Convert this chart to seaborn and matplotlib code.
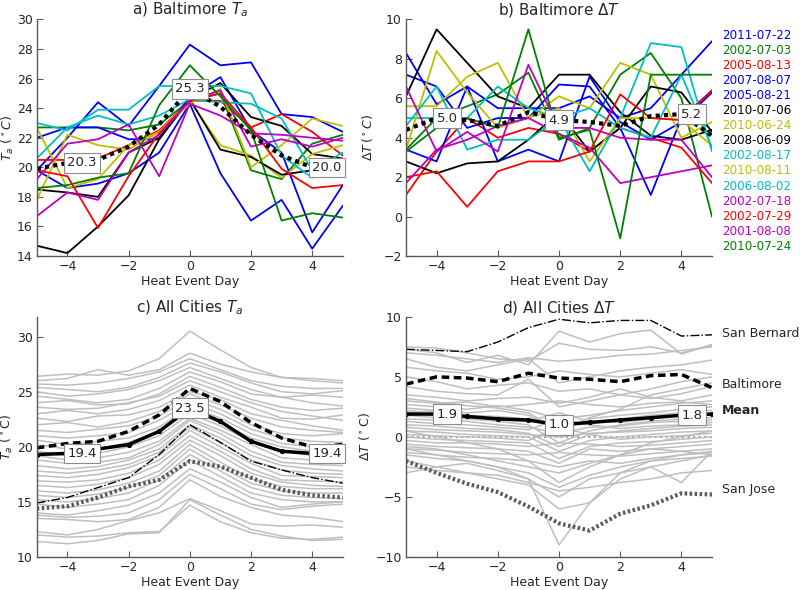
import matplotlib
matplotlib.use("Agg")
import matplotlib.pyplot as plt
import pandas as pd
import seaborn as sns

days = list(range(-5, 6))

events = ["2011-07-22", "2002-07-03", "2005-08-13", "2007-08-07", "2005-08-21",
          "2010-07-06", "2010-06-24", "2008-06-09", "2002-08-17", "2010-08-11",
          "2006-08-02", "2002-07-18", "2002-07-29", "2001-08-08", "2010-07-24"]
event_colors = ["#0000ff", "#008000", "#ff0000", "#0000ff", "#0000ff",
                "#000000", "#bfbf00", "#000000", "#00bfbf", "#bfbf00",
                "#00bfbf", "#bf00bf", "#ff0000", "#bf00bf", "#008000"]

# Baltimore air temperature per event, days -5..5
balt_ta = [
    [19.8, 22.0, 24.4, 22.8, 25.5, 28.3, 26.9, 27.1, 23.6, 23.4, 22.4],
    [22.7, 22.7, 22.7, 22.5, 22.9, 24.5, 25.0, 19.8, 19.2, 21.6, 22.2],
    [20.5, 20.5, 20.6, 21.5, 22.5, 24.5, 24.5, 22.7, 23.6, 22.4, 20.8],
    [22.0, 22.7, 22.7, 21.9, 21.9, 24.8, 26.1, 22.5, 21.0, 15.6, 18.8],
    [19.8, 18.6, 18.9, 19.6, 21.0, 24.3, 19.6, 16.4, 17.8, 14.5, 17.4],
    [14.7, 14.2, 16.0, 18.1, 21.9, 24.6, 25.7, 23.4, 22.8, 20.9, 20.6],
    [22.7, 18.6, 19.2, 21.5, 22.4, 24.5, 21.5, 20.8, 19.3, 20.9, 21.5],
    [18.5, 18.3, 18.0, 21.0, 22.0, 24.6, 21.2, 20.7, 19.5, 19.8, 20.0],
    [23.0, 22.5, 23.9, 23.9, 25.5, 25.5, 25.5, 25.0, 20.8, 19.3, 20.2],
    [17.8, 22.2, 21.5, 21.2, 22.4, 24.3, 25.3, 20.0, 21.5, 23.3, 22.8],
    [20.6, 22.7, 23.5, 22.9, 23.5, 24.6, 24.4, 24.3, 23.3, 19.8, 21.0],
    [19.2, 21.6, 21.9, 22.9, 19.4, 24.3, 23.5, 22.3, 22.2, 22.0, 21.8],
    [19.8, 19.4, 15.9, 19.4, 22.3, 24.5, 25.0, 22.7, 19.9, 18.6, 18.8],
    [16.7, 18.3, 17.8, 21.0, 22.2, 24.5, 25.2, 21.4, 21.9, 21.4, 22.0],
    [18.6, 18.8, 19.3, 19.6, 24.2, 26.9, 24.8, 22.5, 16.4, 16.9, 16.6],
]

# Baltimore urban-rural difference per event
balt_dt = [
    [8.3, 5.7, 6.6, 5.5, 5.5, 5.5, 6.1, 5.0, 5.5, 7.2, 8.9],
    [3.4, 5.0, 5.6, 6.2, 7.3, 3.9, 4.5, 7.2, 8.3, 6.0, 0.0],
    [1.1, 3.3, 5.0, 4.0, 4.5, 4.2, 3.3, 4.5, 4.0, 3.5, 1.7],
    [7.2, 6.6, 4.5, 5.0, 5.0, 6.7, 6.6, 4.5, 1.1, 5.0, 6.4],
    [3.4, 2.8, 6.6, 2.8, 3.4, 2.8, 7.1, 4.8, 3.9, 4.8, 6.3],
    [6.1, 9.5, 7.8, 6.1, 5.5, 7.2, 7.2, 5.3, 4.1, 3.9, 4.4],
    [5.6, 5.6, 7.1, 7.8, 5.0, 6.1, 5.5, 7.8, 7.2, 4.0, 4.8],
    [2.8, 2.2, 2.7, 2.8, 3.9, 5.3, 3.3, 4.5, 6.6, 6.3, 4.3],
    [5.0, 5.0, 5.0, 6.6, 5.5, 5.0, 2.3, 5.0, 8.8, 8.6, 3.3],
    [3.4, 8.4, 6.3, 4.5, 5.0, 5.5, 2.8, 5.0, 5.0, 4.9, 3.6],
    [4.6, 6.6, 3.4, 3.9, 3.9, 5.0, 5.5, 4.5, 4.0, 7.2, 3.5],
    [6.6, 3.3, 4.3, 3.3, 7.7, 4.5, 4.5, 4.0, 3.9, 3.9, 2.0],
    [2.0, 2.3, 0.5, 2.3, 2.8, 2.8, 3.3, 6.2, 5.0, 4.9, 6.4],
    [1.7, 3.4, 3.9, 4.6, 5.0, 4.2, 3.5, 1.7, 2.0, 2.3, 2.6],
    [3.3, 4.5, 5.0, 4.5, 9.5, 4.0, 4.4, -1.1, 7.2, 7.2, 7.2],
]

balt_mean_ta = [19.9, 20.3, 20.5, 21.4, 22.9, 25.3, 24.1, 22.2, 20.8, 20.0, 20.2]
balt_mean_dt = [4.4, 5.0, 4.9, 4.6, 5.3, 4.9, 4.8, 4.6, 5.1, 5.2, 4.1]
mean_ta = [19.3, 19.4, 19.8, 20.2, 21.4, 23.5, 22.3, 20.5, 19.6, 19.4, 19.4]
mean_dt = [1.9, 1.9, 1.7, 1.5, 1.4, 1.0, 1.2, 1.4, 1.6, 1.8, 1.9]
sb_ta = [14.9, 15.4, 16.3, 17.2, 19.3, 22.0, 20.4, 18.7, 17.9, 17.2, 16.7]
sb_dt = [7.3, 7.2, 7.1, 7.9, 9.1, 9.8, 9.5, 9.7, 9.7, 8.4, 8.5]
sj_ta = [14.4, 14.6, 15.4, 16.4, 17.0, 18.7, 18.2, 17.2, 16.1, 15.6, 15.4]
sj_dt = [-2.0, -3.0, -3.9, -4.6, -5.8, -7.2, -7.8, -6.4, -5.7, -4.7, -4.8]

# all cities, air temperature
cities_ta = [
    [26.4, 26.6, 26.5, 26.9, 28.0, 30.5, 28.8, 27.2, 26.3, 26.2, 26.0],
    [26.0, 26.2, 27.0, 26.5, 27.0, 28.5, 27.5, 26.8, 26.3, 26.0, 25.8],
    [25.7, 25.6, 25.8, 26.2, 26.8, 28.0, 27.0, 26.0, 25.5, 25.3, 25.3],
    [25.4, 25.2, 25.0, 25.4, 26.3, 27.6, 26.8, 25.8, 25.0, 24.8, 25.1],
    [25.0, 24.6, 24.8, 25.2, 26.0, 27.2, 26.2, 25.2, 24.5, 24.7, 24.5],
    [24.6, 24.3, 24.0, 24.3, 25.3, 26.8, 25.9, 24.8, 24.5, 24.0, 23.7],
    [24.0, 24.2, 23.8, 23.9, 24.8, 26.4, 25.4, 24.3, 23.6, 23.3, 23.5],
    [23.6, 23.4, 23.5, 24.0, 24.6, 26.0, 25.0, 24.0, 23.2, 22.8, 22.4],
    [23.0, 23.3, 23.0, 23.4, 24.2, 25.6, 24.5, 23.6, 22.6, 22.5, 22.9],
    [22.6, 22.3, 22.8, 22.9, 23.6, 25.0, 24.3, 23.0, 22.4, 21.9, 21.5],
    [22.0, 22.2, 21.8, 22.3, 23.2, 24.8, 23.8, 22.6, 21.8, 21.5, 21.3],
    [21.5, 21.3, 21.6, 21.9, 22.8, 24.4, 23.4, 22.0, 21.2, 21.0, 21.2],
    [21.0, 20.8, 21.0, 21.3, 22.4, 24.0, 23.0, 21.6, 20.8, 20.5, 20.4],
    [20.6, 20.2, 20.5, 20.8, 21.8, 23.6, 22.6, 21.2, 20.3, 20.0, 19.8],
    [20.2, 19.8, 19.8, 20.4, 21.4, 23.3, 22.2, 20.8, 20.0, 19.6, 19.5],
    [19.6, 19.2, 19.4, 20.0, 21.0, 23.0, 21.9, 20.5, 19.6, 19.2, 19.0],
    [19.2, 18.8, 19.0, 19.5, 20.5, 22.6, 21.5, 20.2, 19.0, 18.8, 18.6],
    [18.8, 18.5, 18.6, 19.0, 20.2, 22.4, 21.2, 19.6, 18.6, 18.4, 18.3],
    [18.3, 18.0, 18.2, 18.8, 19.8, 22.0, 20.8, 19.2, 18.3, 18.0, 17.8],
    [17.8, 17.6, 17.9, 18.4, 19.5, 21.8, 20.4, 18.8, 17.9, 17.6, 17.5],
    [17.4, 17.2, 17.5, 18.1, 19.2, 21.5, 20.0, 18.5, 17.4, 17.3, 17.2],
    [16.9, 16.8, 17.0, 17.6, 18.8, 21.0, 19.6, 18.0, 17.0, 16.9, 16.8],
    [16.5, 16.3, 16.6, 17.2, 18.4, 20.6, 19.2, 17.6, 16.8, 16.5, 16.4],
    [16.0, 15.8, 16.1, 16.7, 17.8, 20.2, 18.6, 17.1, 16.4, 16.2, 16.2],
    [15.6, 15.4, 15.7, 16.3, 17.4, 19.8, 18.2, 16.7, 16.0, 15.8, 15.8],
    [15.2, 15.0, 15.3, 15.8, 17.0, 19.3, 17.8, 16.3, 15.6, 15.4, 15.3],
    [14.8, 14.5, 14.8, 15.2, 16.5, 18.8, 17.3, 15.8, 15.2, 15.0, 15.0],
    [14.0, 13.8, 14.2, 14.7, 15.8, 18.0, 16.8, 15.4, 14.5, 14.8, 15.0],
    [13.8, 13.6, 13.7, 14.0, 15.2, 17.5, 16.2, 14.8, 14.3, 14.6, 14.8],
    [13.5, 13.4, 13.2, 13.4, 14.5, 17.0, 15.5, 14.5, 13.8, 13.6, 13.2],
    [12.3, 12.0, 12.5, 13.3, 14.0, 15.3, 14.2, 13.0, 12.8, 12.9, 12.7],
    [11.4, 11.2, 11.5, 12.1, 12.2, 15.2, 13.8, 12.5, 11.9, 11.5, 11.6],
    [12.0, 11.8, 11.9, 12.2, 12.3, 14.7, 13.2, 12.2, 11.7, 11.6, 11.8],
]

# all cities, urban-rural difference
cities_dt = [
    [7.5, 7.4, 7.0, 6.5, 6.3, 7.8, 7.3, 7.2, 7.5, 7.0, 7.6],
    [7.3, 7.0, 6.2, 6.8, 6.0, 8.8, 7.9, 8.6, 8.9, 6.9, 7.7],
    [7.0, 6.8, 6.5, 6.2, 6.6, 6.3, 6.5, 6.8, 6.9, 7.2, 7.5],
    [6.5, 5.8, 5.5, 6.0, 6.5, 4.5, 5.0, 5.5, 5.8, 6.0, 6.4],
    [5.8, 5.5, 5.3, 4.8, 5.0, 5.5, 5.2, 5.0, 5.3, 5.6, 5.2],
    [5.0, 4.6, 4.0, 4.3, 4.5, 3.8, 4.0, 3.5, 4.0, 4.6, 5.0],
    [4.2, 3.8, 3.6, 3.5, 4.8, 2.5, 3.0, 3.5, 3.2, 3.6, 4.2],
    [3.5, 3.3, 3.0, 3.2, 3.3, 2.8, 3.3, 4.0, 3.3, 3.0, 3.5],
    [3.0, 2.8, 2.9, 2.5, 2.7, 3.0, 2.7, 2.5, 2.8, 2.9, 2.7],
    [2.7, 2.5, 2.3, 2.6, 2.2, 1.5, 1.8, 2.2, 2.5, 2.8, 3.0],
    [2.4, 2.2, 2.0, 2.2, 1.8, 0.5, 1.5, 1.8, 2.0, 2.3, 2.5],
    [2.2, 2.0, 1.8, 1.7, 1.5, 1.0, 1.2, 1.5, 1.8, 2.0, 2.2],
    [2.0, 2.2, 1.6, 1.4, 1.3, 2.0, 1.3, 1.2, 1.5, 1.8, 1.9],
    [1.8, 1.6, 1.5, 1.3, 1.0, -0.5, 0.5, 1.0, 1.3, 1.5, 1.6],
    [1.5, 1.4, 1.3, 1.0, 0.8, 0.3, 0.8, 0.9, 1.2, 1.3, 1.4],
    [1.3, 1.1, 1.0, 0.8, 0.6, 1.5, 1.0, 0.7, 0.9, 1.0, 1.2],
    [1.0, 0.9, 0.7, 0.6, 0.3, -0.8, 0.2, 0.5, 0.7, 0.9, 1.0],
    [0.8, 0.6, 0.5, 0.4, 0.2, 0.0, 0.3, 0.4, 0.5, 0.7, 0.8],
    [0.5, 0.4, 0.2, 0.1, 0.0, -1.2, -0.3, 0.0, 0.2, 0.4, 0.5],
    [0.2, 0.1, 0.0, -0.1, -0.3, 0.8, 0.2, -0.2, 0.0, 0.1, 0.3],
    [0.0, -0.2, -0.3, -0.4, -0.5, -1.8, -0.8, -0.5, -0.4, -0.2, 0.0],
    [-0.3, -0.5, -0.5, -0.6, -0.8, -0.5, -0.6, -0.8, -0.7, -0.5, -0.3],
    [-0.6, -0.8, -0.9, -1.0, -1.2, -2.2, -1.0, -1.2, -1.0, -0.8, -0.6],
    [-1.0, -1.1, -1.3, -1.4, -1.5, -1.3, -1.5, -1.6, -1.4, -1.2, -1.0],
    [-1.3, -1.5, -1.7, -1.8, -2.0, -2.5, -2.0, -2.2, -1.8, -1.5, -1.3],
    [-0.8, -1.0, -1.5, -2.0, -2.5, -3.0, -2.2, -1.5, -1.0, -1.2, -1.5],
    [-1.5, -1.8, -2.0, -2.5, -3.0, -4.2, -3.2, -2.5, -2.0, -1.8, -1.6],
    [-3.0, -2.5, -2.2, -2.8, -3.5, -5.0, -3.5, -3.0, -2.5, -3.8, -1.2],
    [-2.0, -2.5, -3.0, -3.5, -4.0, -6.0, -5.5, -3.0, -2.0, -1.5, -1.2],
    [-1.0, -1.5, -2.0, -2.5, -3.5, -9.0, -5.5, -3.5, -2.5, -2.0, -1.5],
    [-2.5, -2.8, -3.0, -3.2, -3.8, -4.5, -4.2, -3.8, -3.5, -3.0, -2.8],
    [0.5, 0.0, -0.5, -1.0, -2.0, -3.8, -2.5, -1.5, -0.5, 0.0, 0.5],
    [3.2, 2.9, 2.6, 2.4, 2.0, 0.5, 1.6, 2.3, 3.5, 4.0, 4.5],
]


def long_frame(rows, names, col):
    recs = [(n, d, v) for n, vals in zip(names, rows) for d, v in zip(days, vals)]
    return pd.DataFrame(recs, columns=["id", "day", col])


sns.set_style("ticks")
plt.rcParams["font.family"] = ["DejaVu Sans"]
plt.rcParams["font.size"] = 9
plt.rcParams["mathtext.fontset"] = "dejavusans"

fig = plt.figure(figsize=(8, 5.9), dpi=100)
ax_a = fig.add_axes([0.046, 0.566, 0.3825, 0.401])
ax_b = fig.add_axes([0.5075, 0.566, 0.3825, 0.401])
ax_c = fig.add_axes([0.046, 0.056, 0.3825, 0.407])
ax_d = fig.add_axes([0.5075, 0.056, 0.3825, 0.407])

pal = dict(zip(events, event_colors))
dot_style = (0, (1, 1))
dash_style = (0, (2.2, 1.3))
box = dict(boxstyle="square,pad=0.25", fc="white", ec="0.55", lw=0.8)


def add_labels(ax, vals):
    ax.text(-4, vals[1], f"{vals[1]:.1f}", ha="left", va="center", fontsize=9.5, bbox=box, zorder=10)
    ax.text(0, vals[5], f"{vals[5]:.1f}", ha="center", va="center", fontsize=9.5, bbox=box, zorder=10)
    ax.text(4, vals[9], f"{vals[9]:.1f}", ha="left", va="center", fontsize=9.5, bbox=box, zorder=10)


# a) Baltimore Ta
df_a = long_frame(balt_ta, events, "Ta")
sns.lineplot(data=df_a, x="day", y="Ta", hue="id", palette=pal, estimator=None,
             legend=False, lw=1.3, ax=ax_a)
sns.lineplot(x=days, y=balt_mean_ta, color="k", lw=3, linestyle=dot_style, ax=ax_a)
add_labels(ax_a, balt_mean_ta)
ax_a.set_ylim(14, 30)
ax_a.set_yticks(range(14, 31, 2))
ax_a.set_title("a) Baltimore $T_a$", fontsize=11, pad=0)
ax_a.set_ylabel("$T_a\\ (^\\circ C)$")
ax_a.yaxis.set_label_coords(-0.069, 0.5)

# b) Baltimore dT
df_b = long_frame(balt_dt, events, "dT")
sns.lineplot(data=df_b, x="day", y="dT", hue="id", palette=pal, estimator=None,
             legend=False, lw=1.3, ax=ax_b)
sns.lineplot(x=days, y=balt_mean_dt, color="k", lw=3, linestyle=dot_style, ax=ax_b)
add_labels(ax_b, balt_mean_dt)
ax_b.set_ylim(-2, 10)
ax_b.set_yticks(range(-2, 11, 2))
ax_b.set_title("b) Baltimore $\\Delta T$", fontsize=11, pad=0)
ax_b.set_ylabel("$\\Delta T\\,(^\\circ C)$")
ax_b.yaxis.set_label_coords(-0.10, 0.5)
for i, (ev, col) in enumerate(zip(events, event_colors)):
    ax_b.text(5.33, 9.2 - i * 0.765, ev, color=col, fontsize=8.6, ha="left", va="center",
              clip_on=False)

# c) All cities Ta
city_names = [f"city{i}" for i in range(len(cities_ta))]
df_c = long_frame(cities_ta, city_names, "Ta")
sns.lineplot(data=df_c, x="day", y="Ta", units="id", estimator=None, color="0.75",
             lw=1.1, ax=ax_c)
sns.lineplot(x=days, y=sj_ta, color="0.35", lw=3, linestyle=(0, (0.6, 0.6)), ax=ax_c)
sns.lineplot(x=days, y=sb_ta, color="k", lw=1, linestyle="-.", ax=ax_c)
sns.lineplot(x=days, y=balt_mean_ta, color="k", lw=2.5, linestyle=dash_style, ax=ax_c)
sns.lineplot(x=days, y=mean_ta, color="k", lw=2.5, marker=".", markersize=6,
             markeredgecolor="k", ax=ax_c)
add_labels(ax_c, mean_ta)
ax_c.set_ylim(10, 31.8)
ax_c.set_yticks(range(10, 31, 5))
ax_c.set_title("c) All Cities $T_a$", fontsize=11, pad=0)
ax_c.set_ylabel("$T_a$ ($^\\circ$C)")
ax_c.yaxis.set_label_coords(-0.072, 0.5)

# d) All cities dT
df_d = long_frame(cities_dt, city_names, "dT")
ax_d.axhline(0, color="0.6", lw=1.5, ls=":")
sns.lineplot(data=df_d, x="day", y="dT", units="id", estimator=None, color="0.75",
             lw=1.1, ax=ax_d)
sns.lineplot(x=days, y=sj_dt, color="0.35", lw=3, linestyle=(0, (0.6, 0.6)), ax=ax_d)
sns.lineplot(x=days, y=sb_dt, color="k", lw=1, linestyle="-.", ax=ax_d)
sns.lineplot(x=days, y=balt_mean_dt, color="k", lw=2.5, linestyle=dash_style, ax=ax_d)
sns.lineplot(x=days, y=mean_dt, color="k", lw=2.5, marker=".", markersize=6,
             markeredgecolor="k", ax=ax_d)
add_labels(ax_d, mean_dt)
ax_d.set_ylim(-10, 10)
ax_d.set_yticks(range(-10, 11, 5))
ax_d.set_title("d) All Cities $\\Delta T$", fontsize=11, pad=0)
ax_d.set_ylabel("$\\Delta T$ ($^\\circ$C)")
ax_d.yaxis.set_label_coords(-0.11, 0.5)
ax_d.text(5.33, sb_dt[-1] + 0.1, "San Bernard", fontsize=9, va="center", clip_on=False)
ax_d.text(5.33, balt_mean_dt[-1] + 0.3, "Baltimore", fontsize=9, va="center", clip_on=False)
ax_d.text(5.33, mean_dt[-1] + 0.3, "Mean", fontsize=9, fontweight="bold", va="center", clip_on=False)
ax_d.text(5.33, sj_dt[-1] + 0.45, "San Jose", fontsize=9, va="center", clip_on=False)

for ax in (ax_a, ax_b, ax_c, ax_d):
    ax.set_xlim(-5, 5)
    ax.set_xticks([-4, -2, 0, 2, 4])
    ax.set_xlabel("Heat Event Day", labelpad=1)
    sns.despine(ax=ax)
    for sp in ("left", "bottom"):
        ax.spines[sp].set_color("0.35")
        ax.spines[sp].set_linewidth(1)
    ax.tick_params(direction="in", length=4, color="0.35", labelsize=9, pad=3)

fig.savefig("out.png", dpi=100)
